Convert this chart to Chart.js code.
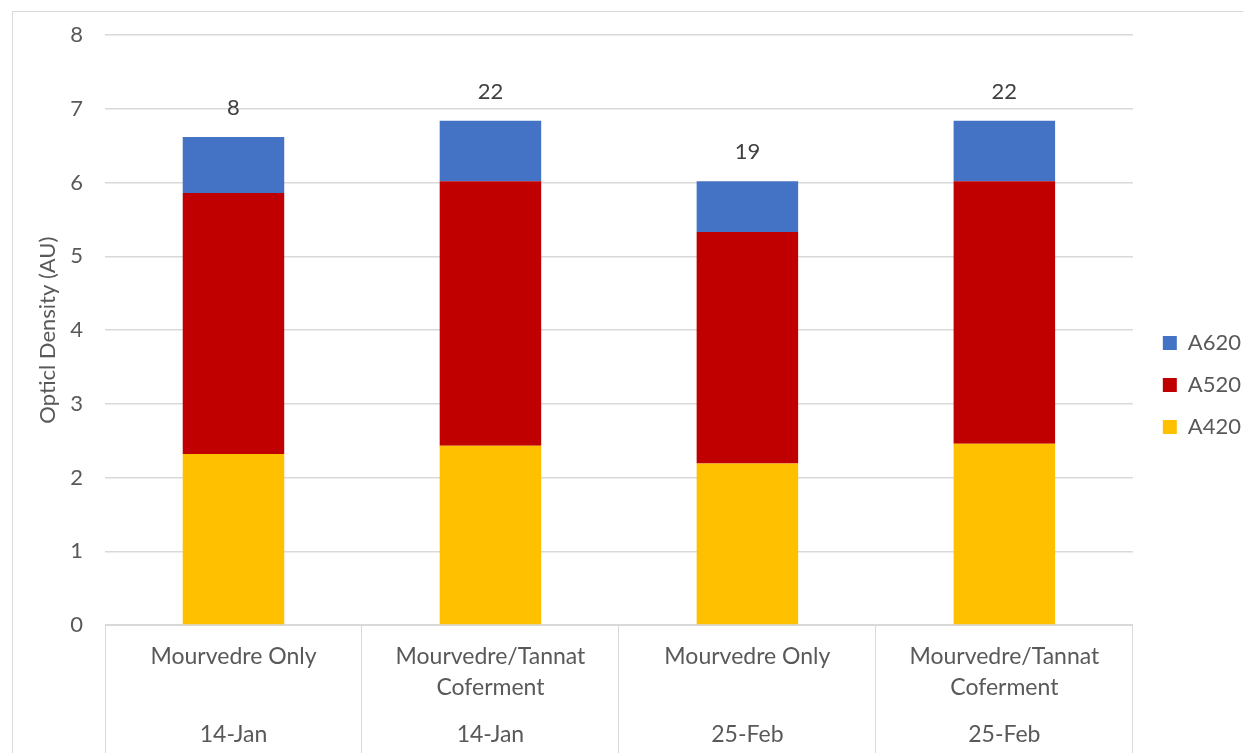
<!DOCTYPE html>
<html>
<head>
<meta charset="utf-8">
<script src="https://cdn.jsdelivr.net/npm/chart.js@4.4.1/dist/chart.umd.min.js"></script>
<style>
  html, body { margin: 0; padding: 0; overflow: hidden; background: #fff; }
  #moldura { position: absolute; left: 12px; top: 11px; width: 1300px; height: 800px; border: 1px solid #d9d9d9; }
  #grafico { position: absolute; left: 0; top: 0; }
</style>
</head>
<body>
<div id="moldura"></div>
<canvas id="grafico" width="1243" height="753"></canvas>
<script>
// amostras (nivel 1) e datas (nivel 2) do eixo x
const amostras = [["Mourvedre Only"], ["Mourvedre/Tannat", "Coferment"], ["Mourvedre Only"], ["Mourvedre/Tannat", "Coferment"]];
const datas = ["14-Jan", "14-Jan", "25-Feb", "25-Feb"];

const a420 = [2.32, 2.43, 2.19, 2.46];
const a520 = [3.54, 3.59, 3.14, 3.56];
const a620 = [0.76, 0.82, 0.69, 0.82];
const rotulosTopo = ["8", "22", "19", "22"];

const yTicks = [0, 1, 2, 3, 4, 5, 6, 7, 8];

const fonte = "Lato";
const cinzaTexto = "#595959";
const cinzaGrade = "#d9d9d9";

// linhas de 15.5px: amostra na linha 0 e 2, data na linha 5
const rotulosX = amostras.map((linhas, i) => {
  const l = [linhas[0], "", linhas[1] || "", "", ""];
  l.push(datas[i]);
  return l;
});

const rotulos = {
  id: "rotulos",
  afterDatasetsDraw(chart) {
    const meta = chart.getDatasetMeta(2);
    const ctx = chart.ctx;
    ctx.save();
    ctx.font = `22px ${fonte}`;
    ctx.fillStyle = "#404040";
    ctx.textAlign = "center";
    ctx.textBaseline = "middle";
    meta.data.forEach((barra, i) => ctx.fillText(rotulosTopo[i], barra.x, barra.y - 29));
    ctx.restore();
  }
};

// ajusta a posicao da legenda (um pouco p/ direita e p/ cima)
const ajusteLegenda = {
  id: "ajusteLegenda",
  afterLayout(chart) {
    const lg = chart.legend;
    lg.left += 10;
    lg.right += 10;
    lg.top -= 9;
    lg.bottom -= 9;
  }
};

const estiloBarra = cor => ({
  backgroundColor: cor,
  borderWidth: 0,
  categoryPercentage: 1,
  barPercentage: 0.395
});

new Chart(document.getElementById("grafico").getContext("2d"), {
  type: "bar",
  data: {
    labels: rotulosX,
    datasets: [
      { label: "A420", data: a420, ...estiloBarra("#FFC000") },
      { label: "A520", data: a520, ...estiloBarra("#C00000") },
      { label: "A620", data: a620, ...estiloBarra("#4472C4") }
    ]
  },
  options: {
    responsive: false,
    animation: false,
    layout: { padding: { top: 35, left: 0, right: 2, bottom: 0 } },
    plugins: {
      title: { display: false },
      tooltip: { enabled: false },
      legend: {
        display: true,
        position: "right",
        reverse: true,
        labels: {
          boxWidth: 14,
          boxHeight: 14,
          padding: 20,
          color: cinzaTexto,
          font: { family: fonte, size: 22 }
        }
      }
    },
    scales: {
      x: {
        stacked: true,
        grid: { offset: true, drawOnChartArea: false, tickLength: 128, color: cinzaGrade, lineWidth: 1 },
        border: { display: true, color: cinzaGrade },
        ticks: {
          color: cinzaTexto,
          font: { family: fonte, size: 23, lineHeight: "15.5px" },
          padding: -103.75,
          maxRotation: 0,
          autoSkip: false
        },
        afterFit: s => { s.height = 128; }
      },
      y: {
        stacked: true,
        min: 0,
        max: 8,
        afterBuildTicks: s => { s.ticks = yTicks.map(v => ({ value: v })); },
        grid: { color: cinzaGrade, lineWidth: 1.5, drawTicks: false },
        border: { display: false },
        ticks: { color: cinzaTexto, font: { family: fonte, size: 22 }, padding: 22 },
        title: {
          display: true,
          text: "Opticl Density (AU)",
          color: cinzaTexto,
          font: { family: fonte, size: 22 },
          padding: { top: 35, bottom: 0 }
        },
        afterFit: s => { s.width = 105; }
      }
    }
  },
  plugins: [rotulos, ajusteLegenda]
});
</script>
</body>
</html>
